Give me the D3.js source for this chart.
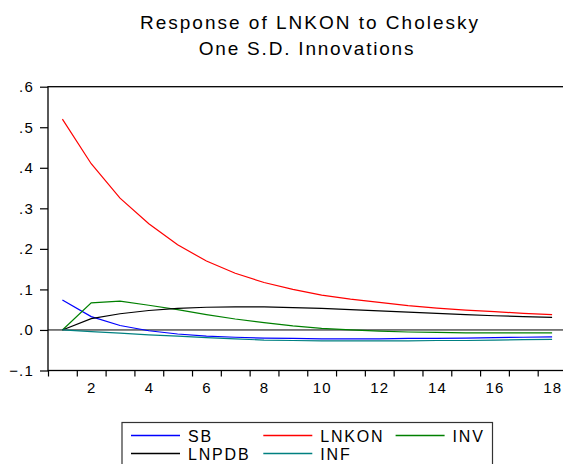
<!DOCTYPE html>
<html>
<head>
<meta charset="utf-8">
<script src="https://cdn.jsdelivr.net/npm/d3@7"></script>
<style>
  body { margin: 0; background: #fff; }
  text { font-family: "Liberation Sans", Arial, sans-serif; fill: #000; }
</style>
</head>
<body>
<div id="chart"></div>
<script>
// periods 1..18
var periods = d3.range(1, 19)
var seriesNames = ["SB", "LNKON", "INV", "LNPDB", "INF"]
var seriesColors = ["#0000ff", "#ff0000", "#008000", "#000000", "#008080"]

var sb = [0.074, 0.033, 0.011, -0.002, -0.010, -0.015, -0.018, -0.020, -0.021, -0.022, -0.022, -0.022, -0.021, -0.021, -0.020, -0.019, -0.018, -0.017]
var lnkon = [0.52, 0.41, 0.325, 0.262, 0.21, 0.17, 0.14, 0.117, 0.1, 0.086, 0.076, 0.068, 0.06, 0.054, 0.049, 0.045, 0.041, 0.038]
var inv = [0, 0.067, 0.071, 0.061, 0.05, 0.038, 0.027, 0.018, 0.01, 0.004, 0, -0.003, -0.005, -0.006, -0.007, -0.007, -0.007, -0.007]
var lnpdb = [0, 0.028, 0.040, 0.048, 0.053, 0.056, 0.057, 0.057, 0.055, 0.053, 0.050, 0.047, 0.044, 0.041, 0.038, 0.035, 0.033, 0.031]
var inf = [0, -0.004, -0.008, -0.012, -0.015, -0.019, -0.022, -0.025, -0.026, -0.027, -0.027, -0.027, -0.027, -0.026, -0.026, -0.025, -0.024, -0.023]

var allSeries = [sb, lnkon, inv, lnpdb, inf]
var yTicks = [-0.1, 0, 0.1, 0.2, 0.3, 0.4, 0.5, 0.6]
var xLabels = [2, 4, 6, 8, 10, 12, 14, 16, 18]

var w = 563, h = 464

var svg = d3.select("#chart").append("svg")
  .attr("width", w).attr("height", h)

var x = d3.scaleLinear().domain([0.5, 18.5]).range([48, 566.5])
var y = d3.scaleLinear().domain([-0.1, 0.6]).range([370.5, 86.7])

// title
svg.append("text").attr("x", 310).attr("y", 29)
  .attr("text-anchor", "middle").style("font-size", "19px").style("letter-spacing", "2px")
  .text("Response of LNKON to Cholesky")
svg.append("text").attr("x", 307).attr("y", 55)
  .attr("text-anchor", "middle").style("font-size", "19px").style("letter-spacing", "1.8px")
  .text("One S.D. Innovations")

// frame
svg.append("rect")
  .attr("x", x(0.5)).attr("y", y(0.6))
  .attr("width", x(18.5) - x(0.5)).attr("height", y(-0.1) - y(0.6))
  .attr("fill", "none").attr("stroke", "#000").attr("stroke-width", 1.3)

// zero line
svg.append("line")
  .attr("x1", x(0.5)).attr("x2", x(18.5))
  .attr("y1", y(0)).attr("y2", y(0))
  .attr("stroke", "#000").attr("stroke-width", 1)

// y axis
var yAxis = d3.axisLeft(y).tickValues(yTicks).tickSize(8).tickPadding(6)
  .tickFormat(function (d) { return d3.format(".1f")(d).replace("0.", ".") })
var gy = svg.append("g").attr("transform", "translate(" + x(0.5) + ",0)").call(yAxis)
gy.select(".domain").remove()
gy.selectAll("text").style("font-size", "15px").style("letter-spacing", "1.2px")
gy.selectAll("line").attr("stroke-width", 1.2)

// x axis: ticks between periods, labels on even periods
var xAxis = d3.axisBottom(x).tickValues(d3.range(0.5, 18.5, 1)).tickSize(6).tickFormat("")
var gx = svg.append("g").attr("transform", "translate(0," + y(-0.1) + ")").call(xAxis)
gx.select(".domain").remove()
gx.selectAll("line").attr("stroke-width", 1.2)

svg.selectAll(".xlab").data(xLabels).enter().append("text")
  .attr("class", "xlab")
  .attr("x", function (d) { return x(d) + 0.6 })
  .attr("y", 392.5)
  .attr("text-anchor", "middle")
  .style("font-size", "15px")
  .style("letter-spacing", "1.2px")
  .text(function (d) { return d })

// lines
var line = d3.line()
  .x(function (d, i) { return x(periods[i]) })
  .y(function (d) { return y(d) })

svg.selectAll(".series").data(allSeries).enter().append("path")
  .attr("class", "series")
  .attr("d", line)
  .attr("fill", "none")
  .attr("stroke", function (d, i) { return seriesColors[i] })
  .attr("stroke-width", 1.2)

// legend
svg.append("rect")
  .attr("x", 122).attr("y", 422.5).attr("width", 370.5).attr("height", 60)
  .attr("fill", "none").attr("stroke", "#333").attr("stroke-width", 1.2)

seriesNames.forEach(function (name, i) {
  var lx = 131 + (i % 3) * 132.3
  var ly = 435.5 + Math.floor(i / 3) * 18
  svg.append("line")
    .attr("x1", lx).attr("x2", lx + 49).attr("y1", ly).attr("y2", ly)
    .attr("stroke", seriesColors[i])
    .attr("stroke-width", 1.3)
  svg.append("text")
    .attr("x", lx + 57).attr("y", ly + 6)
    .style("font-size", "16px")
    .style("letter-spacing", "1.8px")
    .text(name)
})
</script>
</body>
</html>
